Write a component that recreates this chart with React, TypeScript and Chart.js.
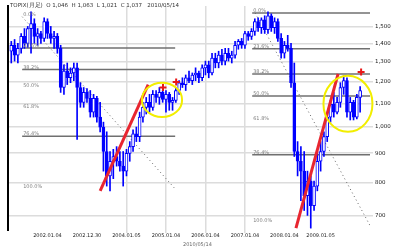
import React, { useEffect, useRef } from "react";
import { Chart, registerables } from "chart.js";
Chart.register(...registerables);

// Monthly candles (open, high, low, close)
const candleOpen = [1358,1391,1337,1374,1442,1402,1488,1518,1442,1459,1430,1530,1459,1430,1442,1374,1173,1254,1220,1244,1270,1173,1105,1150,1123,1062,1123,1041,1000,906,821,871,888,871,854,837,899,924,973,962,1041,1083,1105,1083,1141,1127,1150,1118,1141,1105,1114,1159,1196,1187,1220,1206,1234,1244,1220,1270,1285,1244,1321,1295,1337,1305,1347,1321,1337,1391,1413,1391,1459,1442,1471,1530,1494,1542,1482,1567,1494,1530,1430,1347,1391,1374,1196,906,871,837,758,804,728,788,871,906,962,1041,1096,1062,1105,1173,1206,1062,1105,1041,1127];
const candleHigh = [1413,1424,1402,1459,1488,1501,1592,1548,1488,1471,1554,1548,1501,1471,1459,1391,1285,1295,1270,1295,1295,1196,1173,1168,1159,1141,1132,1105,1020,981,906,914,924,906,906,914,943,989,1000,1062,1105,1127,1141,1159,1159,1173,1159,1159,1150,1127,1173,1206,1220,1234,1254,1244,1270,1254,1285,1305,1305,1347,1347,1358,1369,1374,1374,1358,1413,1424,1430,1471,1471,1488,1548,1554,1554,1567,1592,1579,1554,1548,1459,1413,1448,1402,1295,943,924,906,837,821,804,906,943,981,1062,1114,1150,1127,1196,1230,1220,1127,1114,1141,1178];
const candleLow = [1295,1305,1295,1347,1374,1380,1347,1402,1391,1402,1413,1430,1402,1374,1347,1150,1141,1187,1196,1206,951,1083,1083,1105,1041,1041,1020,981,837,788,773,812,854,837,788,821,871,906,943,943,1020,1054,1062,1070,1105,1096,1105,1062,1070,1070,1105,1141,1173,1159,1196,1187,1206,1196,1206,1234,1220,1234,1270,1270,1285,1285,1305,1295,1321,1369,1374,1374,1419,1424,1448,1471,1459,1459,1459,1471,1459,1413,1321,1321,1358,1173,888,821,743,714,700,665,714,773,837,888,943,1020,1041,1054,1083,1141,1041,1029,1029,1033,1062];
const candleClose = [1391,1337,1374,1442,1402,1488,1518,1442,1459,1430,1530,1459,1430,1442,1374,1173,1254,1220,1244,1270,1173,1105,1150,1123,1062,1123,1041,1000,906,821,871,888,871,854,837,899,924,973,962,1041,1083,1105,1083,1141,1127,1150,1118,1141,1105,1114,1159,1196,1187,1220,1206,1234,1244,1220,1270,1285,1244,1321,1295,1337,1305,1347,1321,1337,1391,1413,1391,1459,1442,1471,1530,1494,1542,1482,1567,1494,1530,1430,1347,1391,1374,1196,906,871,837,758,804,728,788,871,906,962,1041,1096,1062,1105,1173,1206,1062,1105,1041,1127,1159];

const xTickIdx = [11, 23, 35, 47, 59, 71, 83, 94];
const xTickLabels = ["2002.01.04", "2002.12.30", "2004.01.05", "2005.01.04", "2006.01.04", "2007.01.04", "2008.01.04", "2009.01.05"];
const xGridIdx = [35, 47, 59, 71];
const yTicks = [700, 800, 900, 1000, 1100, 1200, 1300, 1400, 1500];

// Fibonacci retracements
const fibLabels = ["0.0%", "23.6%", "38.2%", "50.0%", "61.8%", "76.4%", "100.0%"];
const leftFibLevels = [1561, 1376, 1262, 1170, 1078, 964, 779];
const leftFibShown = [false, true, true, false, false, true, false];
const leftFibRange = [3.3, 49.8];
const rightFibLevels = [1584, 1371, 1239, 1133, 1026, 894, 681];
const rightFibShown = [true, true, true, true, false, true, false];
const rightFibRange = [73.2, 109];

// trend lines (red) and dotted diagonals
const leftTrendX = [27.0, 41.6];
const leftTrendY = [773, 1187];
const rightTrendX = [86.5, 99.3];
const rightTrendY = [665, 1239];
const leftDiagX = [3.3, 49.8];
const leftDiagY = [1561, 779];
const rightDiagX = [74.1, 109];
const rightDiagY = [1584, 672];

// highs marked with +
const markX = [46.1, 50.1, 106.3];
const markY = [1173, 1200, 1249];

// circles: centre index, half width (index units), top value, bottom value
const circleX = [45.8, 102.3];
const circleHalfW = [6.1, 7.45];
const circleTop = [1196, 1230];
const circleBottom = [1041, 981];

const titleText = "TOPIX(月足)  O 1,046  H 1,063  L 1,021  C 1,037   2010/05/14";
const footerText = "2010/05/14";

const BLUE = "#0000ff";

export default function App() {
  const ref = useRef<HTMLCanvasElement>(null);
  useEffect(() => {
    if (!ref.current) return;
    const idx = candleOpen.map((_, i) => i);
    const bodies = idx.map((i) => ({ x: i, y: [candleOpen[i], candleClose[i]] }));
    const wicks = idx.map((i) => ({ x: i, y: [candleLow[i], candleHigh[i]] }));
    const bodyFill = idx.map((i) => (candleClose[i] >= candleOpen[i] ? "#ffffff" : BLUE));

    const datasets: any[] = [];
    datasets.push({
      type: "line",
      data: markX.map((x, k) => ({ x, y: markY[k] })),
      showLine: false,
      pointStyle: "cross",
      pointRadius: 3.5,
      pointBorderWidth: 2,
      pointBorderColor: "#e81818",
      order: 0,
    });
    [
      [leftTrendX, leftTrendY],
      [rightTrendX, rightTrendY],
    ].forEach(([xs, ys]) =>
      datasets.push({
        type: "line",
        data: xs.map((x, k) => ({ x, y: ys[k] })),
        borderColor: "#e82630",
        borderWidth: 3,
        pointRadius: 0,
        order: 1,
      })
    );
    datasets.push({
      type: "bar",
      data: bodies,
      backgroundColor: bodyFill,
      borderColor: BLUE,
      borderWidth: 1,
      borderSkipped: false,
      barThickness: 3,
      grouped: false,
      order: 3,
    });
    datasets.push({
      type: "bar",
      data: wicks,
      backgroundColor: BLUE,
      barThickness: 1,
      grouped: false,
      order: 4,
    });
    [
      [leftDiagX, leftDiagY],
      [rightDiagX, rightDiagY],
    ].forEach(([xs, ys]) =>
      datasets.push({
        type: "line",
        data: xs.map((x, k) => ({ x, y: ys[k] })),
        borderColor: "#666",
        borderWidth: 1,
        borderDash: [1, 3],
        pointRadius: 0,
        order: 5,
      })
    );
    const addFib = (levels: number[], shown: boolean[], range: number[]) =>
      levels.forEach((lv, k) => {
        if (!shown[k]) return;
        datasets.push({
          type: "line",
          data: [
            { x: range[0], y: lv },
            { x: range[1], y: lv },
          ],
          borderColor: "#707070",
          borderWidth: 1.5,
          pointRadius: 0,
          order: 6,
        });
      });
    addFib(leftFibLevels, leftFibShown, leftFibRange);
    addFib(rightFibLevels, rightFibShown, rightFibRange);
    datasets.forEach((d) => {
      d.xAxisID = "x";
      d.yAxisID = "y";
    });

    const overlay = {
      id: "overlay",
      afterDatasetsDraw(chart: any) {
        const { ctx } = chart;
        const x = chart.scales.x;
        const y = chart.scales.y;
        ctx.save();
        ctx.strokeStyle = "#f2ee00";
        ctx.lineWidth = 2;
        circleX.forEach((cx, k) => {
          const px = x.getPixelForValue(cx);
          const rx = Math.abs(x.getPixelForValue(cx + circleHalfW[k]) - px);
          const t = y.getPixelForValue(circleTop[k]);
          const b = y.getPixelForValue(circleBottom[k]);
          ctx.beginPath();
          ctx.ellipse(px, (t + b) / 2, rx, (b - t) / 2, 0, 0, Math.PI * 2);
          ctx.stroke();
        });
        ctx.font = '5px "DejaVu Sans"';
        ctx.fillStyle = "#808080";
        ctx.textBaseline = "middle";
        ctx.textAlign = "left";
        const lbl = (levels: number[], range: number[]) =>
          levels.forEach((lv, k) => {
            ctx.fillText(fibLabels[k], x.getPixelForValue(range[0]) + 1, y.getPixelForValue(lv) - 2);
          });
        lbl(leftFibLevels, leftFibRange);
        lbl(rightFibLevels, rightFibRange);
        ctx.restore();
      },
      afterDraw(chart: any) {
        const { ctx } = chart;
        ctx.save();
        ctx.font = '5.5px "DejaVu Sans"';
        ctx.fillStyle = "#333";
        ctx.textBaseline = "middle";
        ctx.fillText(titleText, 10, 6);
        ctx.fillStyle = "#666";
        ctx.font = '5px "DejaVu Sans"';
        ctx.fillText(footerText, 183, 245);
        ctx.restore();
      },
    };

    const chart = new Chart(ref.current, {
      type: "bar",
      data: { datasets },
      plugins: [overlay],
      options: {
        responsive: false,
        animation: false,
        events: [],
        layout: { padding: { top: 2, left: 8, right: 0, bottom: 0 } },
        plugins: { legend: { display: false }, tooltip: { enabled: false }, title: { display: false } },
        scales: {
          x: {
            type: "linear",
            min: -1,
            max: 109,
            bounds: "data",
            offset: false,
            afterBuildTicks: (s: any) => {
              s.ticks = xTickIdx.map((v) => ({ value: v }));
            },
            afterFit: (s: any) => {
              s.height = 20;
            },
            ticks: {
              autoSkip: false,
              maxRotation: 0,
              padding: 0,
              color: "#222",
              font: { family: "DejaVu Sans", size: 5 },
              callback: (v: any) => {
                const k = xTickIdx.indexOf(v);
                return k >= 0 ? xTickLabels[k] : "";
              },
            },
            grid: {
              offset: false,
              tickLength: 3,
              lineWidth: 1.5,
              color: (c: any) => (c.tick && xGridIdx.includes(c.tick.value) ? "#dcdcdc" : "rgba(0,0,0,0)"),
            },
            border: { display: false },
          },
          y: {
            type: "logarithmic",
            position: "right",
            min: 660,
            max: 1630,
            bounds: "data",
            beginAtZero: false,
            afterBuildTicks: (s: any) => {
              s.ticks = yTicks.map((v) => ({ value: v }));
            },
            afterFit: (s: any) => {
              s.width = 30;
            },
            ticks: {
              padding: 2,
              color: "#222",
              font: { family: "DejaVu Sans", size: 5.5 },
              callback: (v: any) => Number(v).toLocaleString("en-US"),
            },
            grid: { color: "#dcdcdc", lineWidth: 1.5, tickLength: 3 },
            border: { display: false },
          },
          yl: {
            type: "linear",
            position: "left",
            min: 0,
            max: 1,
            ticks: { display: false },
            grid: { display: false },
            border: { display: true, color: "#000", width: 2 },
            afterFit: (s: any) => {
              s.width = 0;
            },
          },
        },
      } as any,
    });
    return () => chart.destroy();
  }, []);
  return (
    <div style={{ position: "absolute", left: 0, top: 0, width: 400, height: 250, background: "#fff" }}>
      <canvas ref={ref} width={400} height={250} />
    </div>
  );
}
